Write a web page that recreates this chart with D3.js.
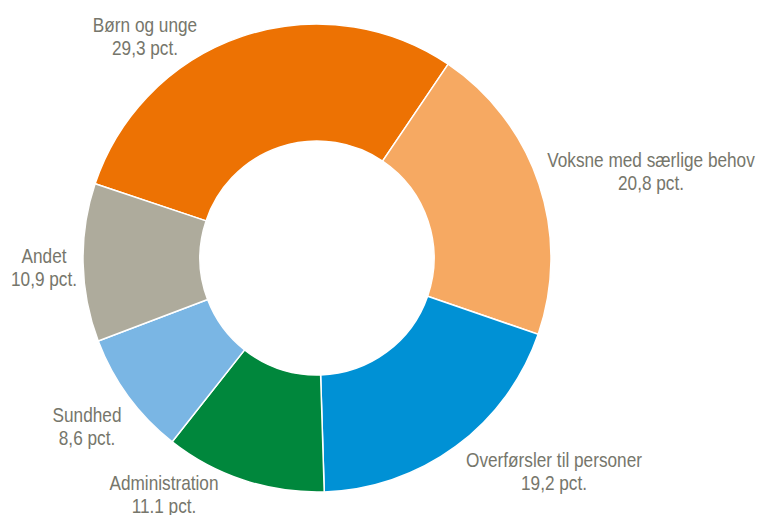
<!DOCTYPE html>
<html><head><meta charset="utf-8">
<script src="https://cdn.jsdelivr.net/npm/d3@7"></script>
<style>html,body{margin:0;padding:0;background:#fff;}svg{display:block;}</style>
</head><body>
<svg id="c" width="758" height="515"></svg>
<script>
const categories = ["Børn og unge", "Voksne med særlige behov", "Overførsler til personer", "Administration", "Sundhed", "Andet"];
const values = [29.3, 20.8, 19.2, 11.1, 8.6, 10.9];
const valueLabels = ["29,3 pct.", "20,8 pct.", "19,2 pct.", "11.1 pct.", "8,6 pct.", "10,9 pct."];
const colors = ["#ED7203", "#F6A962", "#0091D5", "#00873C", "#7AB6E4", "#AEAB9C"];
const labelPos = [[145, 32], [651, 167], [554, 467], [164, 490], [87, 422], [44, 263]];

const svg = d3.select("#c");
const cx = 317, cy = 258, R = 234, r = 117;
const g = svg.append("g").attr("transform", `translate(${cx},${cy})`);
const start = -71.5 * Math.PI / 180;
const pie = d3.pie().sort(null).startAngle(start).endAngle(start + 2 * Math.PI);
const arc = d3.arc().innerRadius(r).outerRadius(R);
g.selectAll("path").data(pie(values)).join("path")
  .attr("d", arc).attr("fill", (d, i) => colors[i])
  .attr("stroke", "#fff").attr("stroke-width", 1.5);

const lab = svg.append("g")
  .attr("font-family", "'Liberation Sans Narrow', 'Arial Narrow', 'Liberation Sans', Arial, sans-serif")
  .attr("font-size", 21).attr("fill", "#76766B").attr("text-anchor", "middle");
categories.forEach((c, i) => {
  const t = lab.append("text")
    .attr("transform", `translate(${labelPos[i][0]},${labelPos[i][1]}) scale(0.82,1)`);
  t.append("tspan").attr("x", 0).attr("y", 0).text(c);
  t.append("tspan").attr("x", 0).attr("y", 23).text(valueLabels[i]);
});
</script>
</body></html>
